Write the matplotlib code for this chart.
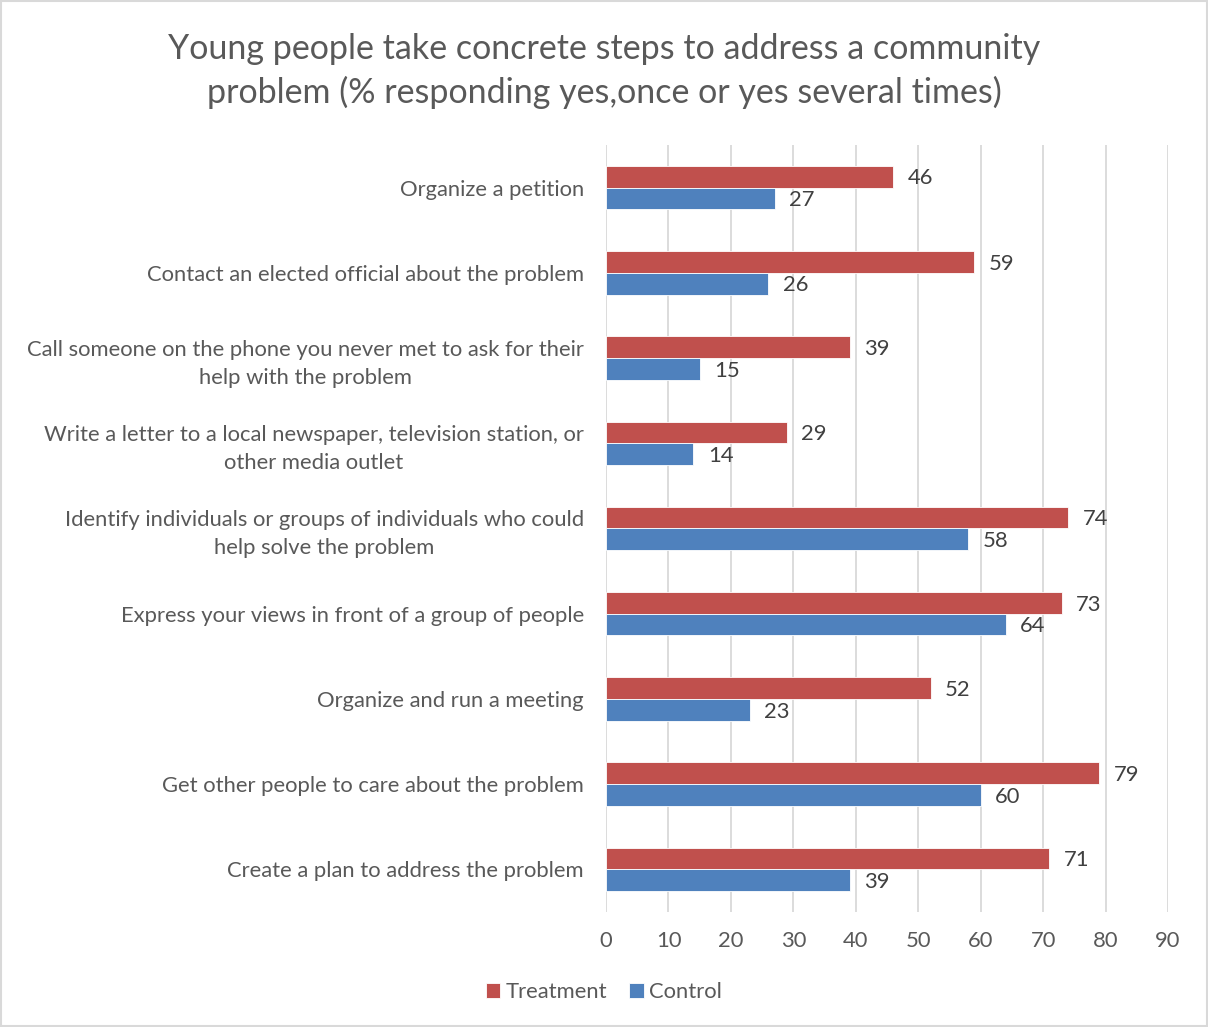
import matplotlib

matplotlib.use("Agg")
import matplotlib.pyplot as plt
import numpy as np
from matplotlib.patches import Rectangle

plt.rcParams["font.family"] = ["Lato", "DejaVu Sans"]

categories = [
    "Organize a petition",
    "Contact an elected official about the problem",
    "Call someone on the phone you never met to ask for their\nhelp with the problem",
    "Write a letter to a local newspaper, television station, or\nother media outlet",
    "Identify individuals or groups of individuals who could\nhelp solve the problem",
    "Express your views in front of a group of people",
    "Organize and run a meeting",
    "Get other people to care about the problem",
    "Create a plan to address the problem",
]
treatment = [46, 59, 39, 29, 74, 73, 52, 79, 71]
control = [27, 26, 15, 14, 58, 64, 23, 60, 39]
x_ticks = [0, 10, 20, 30, 40, 50, 60, 70, 80, 90]

red = "#C0504D"
blue = "#4F81BD"
grid_c = "#D9D9D9"
text_c = "#595959"
label_c = "#404040"
fs = 15.8

fig = plt.figure(figsize=(12.08, 10.27), dpi=100)
ax = fig.add_axes([0.5017, 0.112, 0.4652, 0.7468])

y = np.arange(len(categories))
h = 0.255
ax.barh(y - h / 2, treatment, height=h, color=red, edgecolor="white", linewidth=0.6, label="Treatment", zorder=3)
ax.barh(y + h / 2, control, height=h, color=blue, edgecolor="white", linewidth=0.6, label="Control", zorder=3)

for i in range(len(categories)):
    ax.text(treatment[i] + 2.3, y[i] - h / 2 + 0.02, str(treatment[i]), va="center", ha="left",
            fontsize=fs, color=label_c)
    ax.text(control[i] + 2.3, y[i] + h / 2 + 0.02, str(control[i]), va="center", ha="left",
            fontsize=fs, color=label_c)

ax.set_xlim(0, 90)
ax.set_ylim(len(categories) - 0.5, -0.5)
ax.set_xticks(x_ticks)
ax.set_yticks(y)
ax.set_yticklabels(categories, fontsize=fs, color=text_c, linespacing=1.5, multialignment="center")
ax.tick_params(axis="x", labelsize=fs, colors=text_c, length=0, pad=14)
ax.tick_params(axis="y", length=0, pad=16)
ax.xaxis.grid(True, color=grid_c, linewidth=1.3, zorder=0)
for s in ax.spines.values():
    s.set_visible(False)

fig.suptitle("Young people take concrete steps to address a community\nproblem (% responding yes,once or yes several times)",
             x=0.5, y=0.968, fontsize=24.5, color=text_c, linespacing=1.42)

fig.legend(loc="lower center", bbox_to_anchor=(0.5, 0.005), ncol=2, frameon=False,
           fontsize=fs, labelcolor=text_c, handlelength=0.65, handleheight=0.65,
           handletextpad=0.25, columnspacing=1.0)

fig.patches.append(Rectangle((0.001, 0.001), 0.998, 0.998, transform=fig.transFigure,
                             fill=False, edgecolor=grid_c, linewidth=1.5))

fig.savefig("out.png", dpi=100, facecolor="white")
